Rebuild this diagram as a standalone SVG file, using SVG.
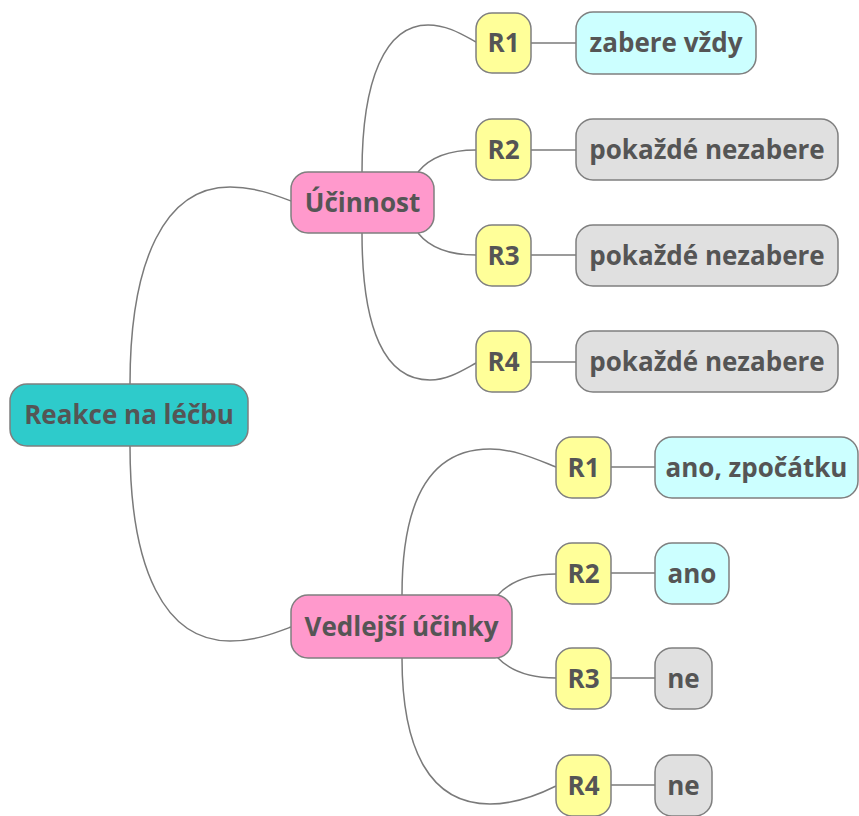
<svg xmlns="http://www.w3.org/2000/svg" width="859" height="816" viewBox="0 0 859 816">
<style>
.n rect{stroke:#7f7f7f;stroke-width:1.5}
.n text{font-family:"Open Sans","Noto Sans",sans-serif;font-weight:bold;font-size:26px;fill:#555555;text-anchor:middle}
.root rect{fill:#2ECBCB}
.l1 rect{fill:#FF99CC}
.r rect{fill:#FFFF99}
.yes rect{fill:#CCFFFF}
.no rect{fill:#E0E0E0}
#edges path{fill:none;stroke:#7a7a7a;stroke-width:1.5}
</style>
<rect width="859" height="816" fill="#ffffff"/>
<g id="edges">
<path d="M130,384 C130,260 165,187 230,187 C255,187 275,195 291,201"/>
<path d="M130,446 C130,570 165,641 230,641 C255,641 275,633 291,627"/>
<path d="M362,172 C362,80 385,25 428,25 C448,25 463,35 476,42"/>
<path d="M418,172 C430,157 450,150 476,150"/>
<path d="M418,233 C430,248 450,255 476,255"/>
<path d="M362,233 C362,330 385,380 430,380 C448,380 463,370 476,363"/>
<path d="M402,595 C402,500 430,449 490,449 C515,449 538,460 556,467"/>
<path d="M497,596 C510,581 530,574 556,574"/>
<path d="M497,657 C510,671 530,678 556,678"/>
<path d="M402,658 C402,750 430,804 490,804 C515,804 538,795 556,786"/>
<path d="M531,43 H576"/>
<path d="M531,150 H576"/>
<path d="M531,255 H576"/>
<path d="M531,362 H576"/>
<path d="M611,467 H655"/>
<path d="M611,573 H655"/>
<path d="M611,678 H655"/>
<path d="M611,785 H655"/>
</g>
<g id="root" class="n root"><rect x="10" y="384" width="238" height="62" rx="17"/><text x="129" y="424">Reakce na léčbu</text></g>
<g id="ucinnost" class="n l1"><rect x="291" y="172" width="143" height="61" rx="17"/><text x="362.5" y="212">Účinnost</text></g>
<g id="vedlejsi" class="n l1"><rect x="291" y="595" width="221" height="63" rx="17"/><text x="401.5" y="636">Vedlejší účinky</text></g>
<g id="u_r1" class="n r"><rect x="476" y="13" width="55" height="60" rx="16"/><text x="503.5" y="52">R1</text></g>
<g id="u_r2" class="n r"><rect x="476" y="119" width="55" height="61" rx="16"/><text x="503.5" y="159">R2</text></g>
<g id="u_r3" class="n r"><rect x="476" y="225" width="55" height="61" rx="16"/><text x="503.5" y="265">R3</text></g>
<g id="u_r4" class="n r"><rect x="476" y="331" width="55" height="61" rx="16"/><text x="503.5" y="371">R4</text></g>
<g id="u_l1" class="n yes"><rect x="576" y="12" width="180" height="62" rx="17"/><text x="666" y="52">zabere vždy</text></g>
<g id="u_l2" class="n no"><rect x="576" y="119" width="262" height="61" rx="17"/><text x="707" y="159">pokaždé nezabere</text></g>
<g id="u_l3" class="n no"><rect x="576" y="225" width="262" height="61" rx="17"/><text x="707" y="265">pokaždé nezabere</text></g>
<g id="u_l4" class="n no"><rect x="576" y="331" width="262" height="61" rx="17"/><text x="707" y="371">pokaždé nezabere</text></g>
<g id="v_r1" class="n r"><rect x="556" y="437" width="55" height="61" rx="16"/><text x="583.5" y="477">R1</text></g>
<g id="v_r2" class="n r"><rect x="556" y="543" width="55" height="61" rx="16"/><text x="583.5" y="583">R2</text></g>
<g id="v_r3" class="n r"><rect x="556" y="648" width="55" height="61" rx="16"/><text x="583.5" y="688">R3</text></g>
<g id="v_r4" class="n r"><rect x="556" y="755" width="55" height="61" rx="16"/><text x="583.5" y="795">R4</text></g>
<g id="v_l1" class="n yes"><rect x="655" y="437" width="203" height="61" rx="17"/><text x="756.5" y="477">ano, zpočátku</text></g>
<g id="v_l2" class="n yes"><rect x="655" y="543" width="74" height="61" rx="17"/><text x="692" y="583">ano</text></g>
<g id="v_l3" class="n no"><rect x="655" y="648" width="57" height="61" rx="17"/><text x="683.5" y="688">ne</text></g>
<g id="v_l4" class="n no"><rect x="655" y="755" width="57" height="61" rx="17"/><text x="683.5" y="795">ne</text></g>
</svg>
